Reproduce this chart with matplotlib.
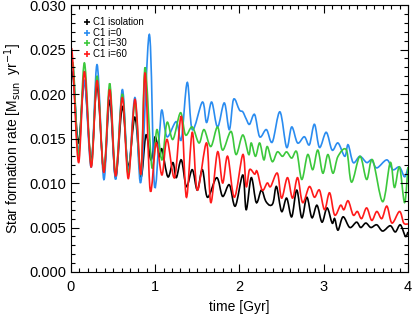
import matplotlib
matplotlib.use("Agg")
import matplotlib.pyplot as plt
import numpy as np
from matplotlib.lines import Line2D
from matplotlib.path import Path
from matplotlib.patches import PathPatch
from matplotlib.ticker import MultipleLocator, FormatStrFormatter

# star formation rate vs time (peaks / troughs)
t_iso = [0.00, 0.03, 0.09, 0.16, 0.24, 0.31, 0.39, 0.46, 0.53, 0.61, 0.68, 0.76, 0.83, 0.89, 0.95,
         1.00, 1.05, 1.08, 1.15, 1.21, 1.25, 1.31, 1.37, 1.44, 1.50, 1.56, 1.62, 1.73, 1.80, 1.88,
         1.95, 2.04, 2.08, 2.14, 2.20, 2.26, 2.31, 2.36, 2.40, 2.44, 2.50, 2.56, 2.62, 2.68, 2.74,
         2.80, 2.86, 2.92, 2.98, 3.04, 3.10, 3.13, 3.17, 3.23, 3.31, 3.39, 3.44, 3.50, 3.56, 3.63,
         3.70, 3.79, 3.85, 3.91, 3.97, 4.00]
sfr_iso = [0.0228, 0.0215, 0.0145, 0.0215, 0.0125, 0.0210, 0.0113, 0.0193, 0.0106, 0.0186, 0.0118,
           0.0174, 0.0107, 0.0154, 0.0126, 0.0152, 0.0130, 0.0138, 0.0107, 0.0123, 0.0106, 0.0126,
           0.0096, 0.0115, 0.0092, 0.0115, 0.0084, 0.0106, 0.0085, 0.0098, 0.0074, 0.0109, 0.0070,
           0.0106, 0.0078, 0.0092, 0.0080, 0.0075, 0.0078, 0.0096, 0.0068, 0.0083, 0.0062, 0.0092,
           0.0061, 0.0084, 0.0061, 0.0075, 0.0056, 0.0072, 0.0055, 0.0060, 0.0047, 0.0062, 0.0050,
           0.0056, 0.0050, 0.0055, 0.0050, 0.0053, 0.0046, 0.0052, 0.0045, 0.0053, 0.0040, 0.0045]

t_i0 = [0.00, 0.03, 0.09, 0.16, 0.24, 0.31, 0.39, 0.46, 0.53, 0.61, 0.68, 0.76, 0.83, 0.93, 0.99,
        1.05, 1.08, 1.14, 1.25, 1.31, 1.38, 1.44, 1.56, 1.61, 1.67, 1.74, 1.82, 1.88, 1.93, 2.00,
        2.04, 2.08, 2.12, 2.18, 2.24, 2.32, 2.39, 2.48, 2.56, 2.62, 2.69, 2.77, 2.83, 2.89, 2.95,
        3.03, 3.10, 3.17, 3.25, 3.29, 3.35, 3.43, 3.51, 3.57, 3.63, 3.75, 3.82, 3.90, 3.96, 4.00]
sfr_i0 = [0.0235, 0.0225, 0.0135, 0.0215, 0.0118, 0.0233, 0.0104, 0.0205, 0.0104, 0.0205, 0.0113,
          0.0196, 0.0101, 0.0267, 0.0098, 0.0155, 0.0182, 0.0152, 0.0169, 0.0149, 0.0213, 0.0160,
          0.0191, 0.0168, 0.0191, 0.0163, 0.0190, 0.0160, 0.0194, 0.0182, 0.0180, 0.0172, 0.0166,
          0.0177, 0.0152, 0.0160, 0.0146, 0.0180, 0.0140, 0.0163, 0.0145, 0.0152, 0.0143, 0.0166,
          0.0140, 0.0157, 0.0137, 0.0145, 0.0130, 0.0143, 0.0123, 0.0130, 0.0123, 0.0126, 0.0117,
          0.0126, 0.0115, 0.0118, 0.0107, 0.0117]

t_i30 = [0.00, 0.03, 0.09, 0.16, 0.24, 0.31, 0.39, 0.46, 0.53, 0.61, 0.68, 0.76, 0.83, 0.88, 0.96,
         1.02, 1.08, 1.14, 1.21, 1.30, 1.36, 1.44, 1.52, 1.58, 1.66, 1.74, 1.80, 1.90, 1.96, 2.04,
         2.11, 2.14, 2.19, 2.24, 2.29, 2.33, 2.39, 2.45, 2.51, 2.56, 2.62, 2.68, 2.74, 2.81, 2.87,
         2.93, 2.99, 3.05, 3.11, 3.17, 3.27, 3.33, 3.43, 3.51, 3.58, 3.70, 3.79, 3.84, 3.90, 3.96, 4.00]
sfr_i30 = [0.0225, 0.0230, 0.0130, 0.0235, 0.0120, 0.0220, 0.0113, 0.0212, 0.0110, 0.0200, 0.0110,
           0.0190, 0.0110, 0.0230, 0.0118, 0.0160, 0.0126, 0.0168, 0.0149, 0.0179, 0.0154, 0.0163,
           0.0145, 0.0160, 0.0141, 0.0163, 0.0137, 0.0158, 0.0132, 0.0154, 0.0132, 0.0145, 0.0130,
           0.0145, 0.0126, 0.0141, 0.0124, 0.0135, 0.0130, 0.0135, 0.0128, 0.0135, 0.0104, 0.0132,
           0.0115, 0.0137, 0.0111, 0.0132, 0.0111, 0.0130, 0.0137, 0.0101, 0.0130, 0.0104, 0.0126,
           0.0079, 0.0123, 0.0095, 0.0118, 0.0078, 0.0118]

t_i60 = [0.00, 0.02, 0.09, 0.16, 0.24, 0.31, 0.39, 0.46, 0.53, 0.61, 0.68, 0.76, 0.83, 0.88, 0.94,
         1.01, 1.08, 1.14, 1.23, 1.31, 1.37, 1.44, 1.50, 1.61, 1.66, 1.74, 1.80, 1.86, 1.94, 2.04,
         2.08, 2.12, 2.18, 2.21, 2.27, 2.33, 2.37, 2.45, 2.50, 2.57, 2.63, 2.69, 2.75, 2.83, 2.89,
         2.95, 3.01, 3.07, 3.13, 3.20, 3.24, 3.29, 3.35, 3.40, 3.45, 3.51, 3.57, 3.63, 3.69, 3.75,
         3.81, 3.90, 3.95, 4.00]
sfr_i60 = [0.0250, 0.0239, 0.0123, 0.0225, 0.0118, 0.0215, 0.0112, 0.0205, 0.0108, 0.0196, 0.0105,
           0.0194, 0.0110, 0.0224, 0.0092, 0.0145, 0.0109, 0.0149, 0.0106, 0.0175, 0.0084, 0.0157,
           0.0092, 0.0145, 0.0078, 0.0135, 0.0100, 0.0130, 0.0084, 0.0132, 0.0096, 0.0115, 0.0110,
           0.0113, 0.0092, 0.0100, 0.0096, 0.0111, 0.0083, 0.0106, 0.0083, 0.0106, 0.0078, 0.0096,
           0.0084, 0.0092, 0.0070, 0.0089, 0.0064, 0.0075, 0.0070, 0.0080, 0.0064, 0.0068, 0.0060,
           0.0072, 0.0058, 0.0068, 0.0060, 0.0074, 0.0055, 0.0068, 0.0055, 0.0054]

labels = ["C1 isolation", "C1 i=0", "C1 i=30", "C1 i=60"]
colors = ["black", "#2a8cf0", "#3cc83c", "#ff1a1a"]


def smooth_path(t, s):
    # curved (Bezier) path through the read points, so the line looks like the original
    p = np.column_stack([t, s])
    verts = [p[0]]
    codes = [Path.MOVETO]
    n = len(p)
    for i in range(n - 1):
        a = p[i - 1] if i > 0 else p[i]
        b = p[i + 2] if i + 2 < n else p[i + 1]
        c1 = p[i] + (p[i + 1] - a) / 6.0
        c2 = p[i + 1] - (b - p[i]) / 6.0
        verts += [c1, c2, p[i + 1]]
        codes += [Path.CURVE4] * 3
    return Path(verts, codes)


plt.rcParams['font.family'] = ['Liberation Sans', 'DejaVu Sans']

fig = plt.figure(figsize=(4.15, 3.17), dpi=100)
ax = fig.add_axes([0.171, 0.142, 0.812, 0.842])

series = [(t_iso, sfr_iso), (t_i0, sfr_i0), (t_i30, sfr_i30), (t_i60, sfr_i60)]
for (t, s), c in zip(series, colors):
    ax.add_patch(PathPatch(smooth_path(t, s), fill=False, edgecolor=c, lw=1.2))

ax.set_xlim(0, 4)
ax.set_ylim(0, 0.030)
ax.xaxis.set_major_locator(MultipleLocator(1))
ax.xaxis.set_minor_locator(MultipleLocator(0.1))
ax.yaxis.set_major_locator(MultipleLocator(0.005))
ax.yaxis.set_minor_locator(MultipleLocator(0.001))
ax.yaxis.set_major_formatter(FormatStrFormatter('%.3f'))
ax.tick_params(which='both', direction='in', top=True, right=True, labelsize=10.5)
ax.tick_params(which='major', length=6, width=0.8)
ax.tick_params(which='minor', length=3, width=0.8)
ax.tick_params(axis='x', pad=6)

ax.set_xlabel("time [Gyr]", fontsize=10)
ax.set_ylabel(r"Star formation rate [M$_{\rm sun}$  yr$^{-1}$]", fontsize=10)

handles = [Line2D([], [], color=c, marker='+', ls='none', markersize=5, mew=1.2) for c in colors]
ax.legend(handles, labels, loc='upper left', frameon=False, fontsize=7,
          handletextpad=0.1, labelspacing=0.05, borderaxespad=0.6, handlelength=1.2,
          bbox_to_anchor=(0.0, 0.99))

fig.savefig("out.png", dpi=100)
